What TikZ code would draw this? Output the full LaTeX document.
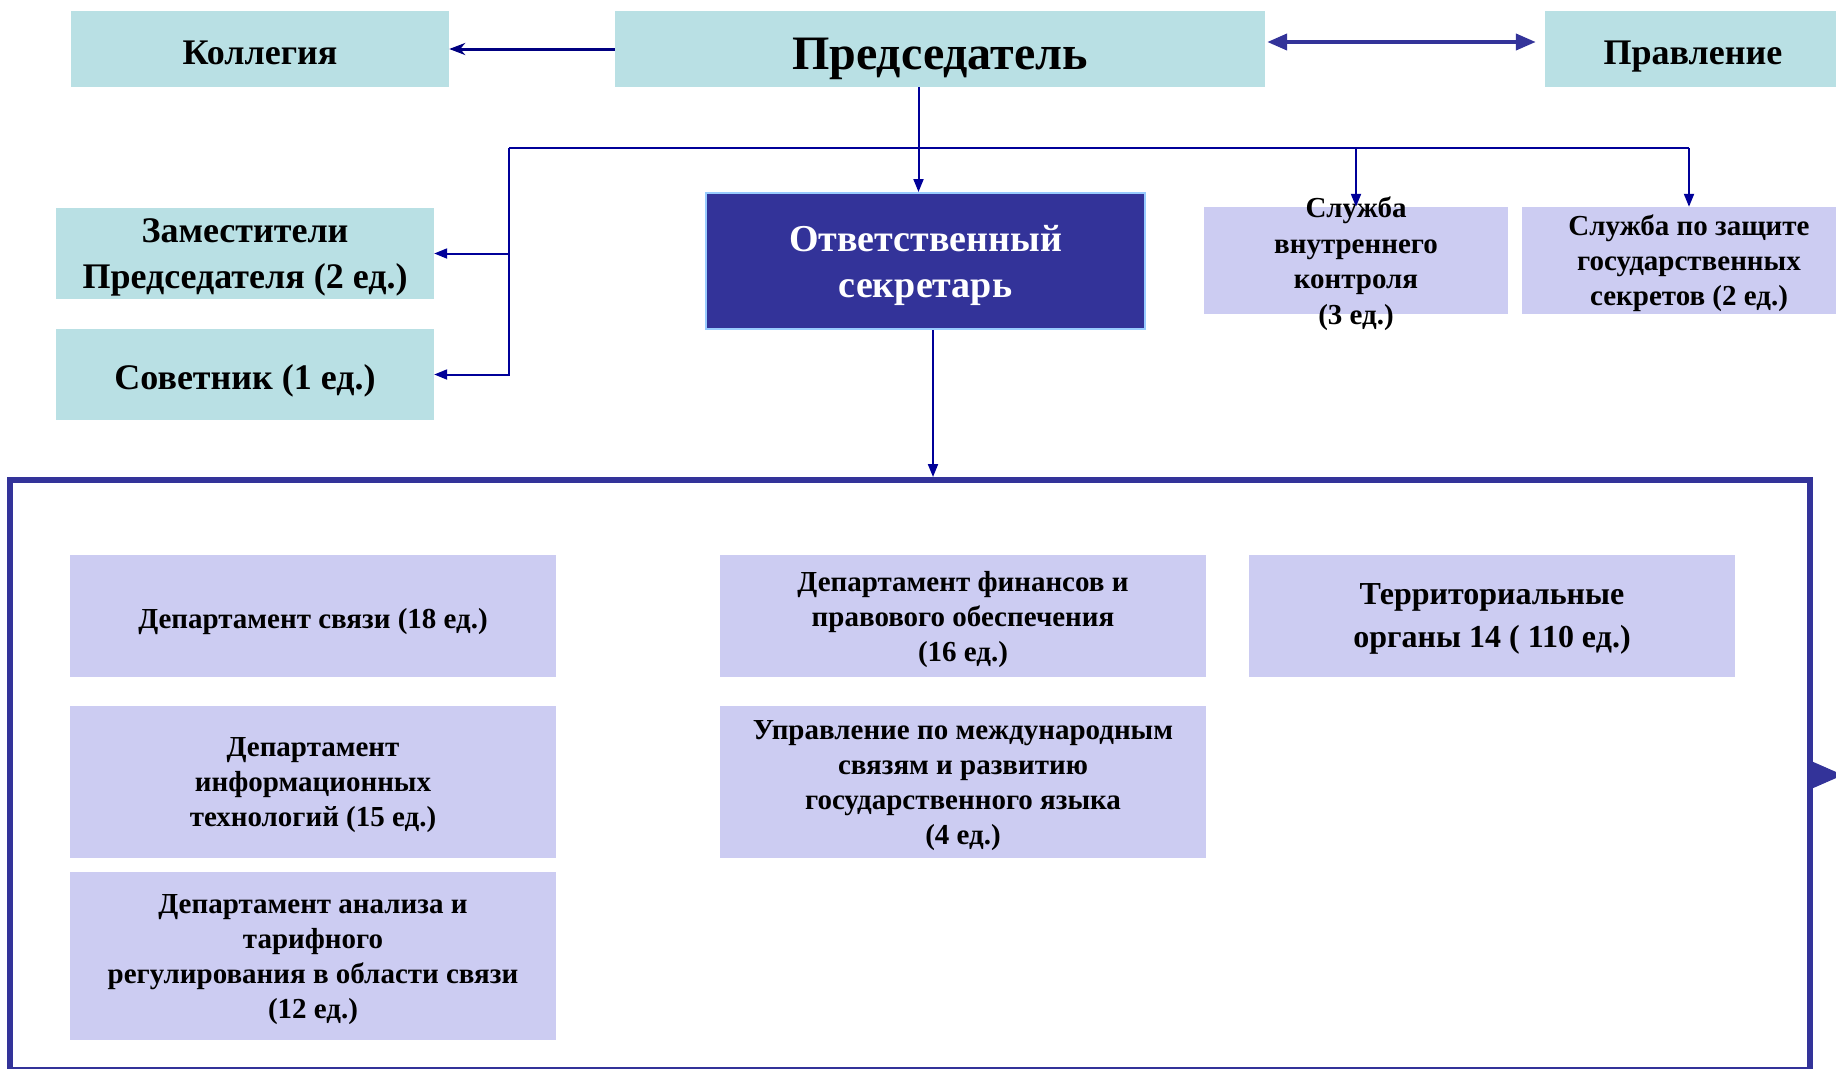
\documentclass[tikz,border=0pt]{standalone}
\usepackage{fontspec}
\setmainfont{Liberation Serif}
\usetikzlibrary{arrows.meta,calc}

\definecolor{tealbox}{RGB}{185,224,228}
\definecolor{lavbox}{RGB}{204,204,242}
\definecolor{navyfill}{RGB}{51,51,153}
\definecolor{lightedge}{RGB}{153,204,255}
\definecolor{linkblue}{RGB}{0,0,153}
\definecolor{darknavy}{RGB}{0,0,128}

\newcommand{\boxstrut}{\rule[-0.25em]{0pt}{1.35em}}

\tikzset{
  struts/.style={execute at begin node=\boxstrut, execute at end node=\boxstrut},
  multi/.style={text depth=#1},
  multi/.default=-10pt,
  headbox/.style={fill=tealbox, inner sep=0pt, align=center, struts, font=\fontsize{36}{46}\selectfont\bfseries},
  deptbox/.style={fill=lavbox, inner sep=0pt, align=center, struts, font=\fontsize{29}{35}\selectfont\bfseries},
  secbox/.style={fill=navyfill, draw=lightedge, line width=2pt, inner sep=0pt, align=center, struts, text=white, font=\fontsize{38}{46}\selectfont\bfseries},
  link/.style={draw=linkblue, line width=2pt, -{Triangle[length=13pt,width=10pt]}},
  linkline/.style={draw=linkblue, line width=2pt},
}

\begin{document}
\begin{tikzpicture}[x=1pt,y=-1pt]
\useasboundingbox (0,0) rectangle (1836,1068);

% upper level
\node[headbox, minimum width=378, minimum height=76] (kollegia) at (260,49) {Коллегия};
\node[headbox, minimum width=650, minimum height=76, font=\fontsize{48}{58}\selectfont\bfseries] (pred) at (940,49) {Председатель};
\node[headbox, minimum width=296, minimum height=76] (pravl) at (1693,49) {Правление};

\node[headbox, multi=-12pt, minimum width=378, minimum height=91] (zam) at (245,253.5) {Заместители\\Председателя (2 ед.)};
\node[headbox, minimum width=378, minimum height=91] (sovet) at (245,374.5) {Советник (1 ед.)};
\node[secbox, multi=-8pt, minimum width=439, minimum height=136] (secr) at (925.5,261) {Ответственный\\секретарь};
\node[deptbox, minimum width=304, minimum height=107,
  label={[align=center, struts, multi=-12pt, font=\fontsize{29}{35.5}\selectfont\bfseries]center:Служба\\внутреннего\\контроля\\(3 ед.)}] (kontrol) at (1356,260.5) {};
\node[deptbox, multi=-5pt, minimum width=334, minimum height=107] (secrets) at (1689,260.5) {Служба по защите\\государственных\\секретов (2 ед.)};

% frame with departments
\node[draw=navyfill, line width=6pt, minimum width=1800, minimum height=590, inner sep=0pt] (frame) at (910,775) {};

\node[deptbox, minimum width=486, minimum height=122] (svyaz) at (313,616) {Департамент связи (18 ед.)};
\node[deptbox, multi, minimum width=486, minimum height=152] (it) at (313,782) {Департамент\\информационных\\технологий (15 ед.)};
\node[deptbox, multi, minimum width=486, minimum height=168] (tarif) at (313,956) {Департамент анализа и\\тарифного\\регулирования в области связи\\(12 ед.)};
\node[deptbox, multi=-1pt, minimum width=486, minimum height=122] (fin) at (963,616) {Департамент финансов и\\правового обеспечения\\(16 ед.)};
\node[deptbox, multi, minimum width=486, minimum height=152] (mezhd) at (963,782) {Управление по международным\\связям и развитию\\государственного языка\\(4 ед.)};
\node[deptbox, multi, minimum width=486, minimum height=122, font=\fontsize{32}{43}\selectfont\bfseries] (terr) at (1492,616) {Территориальные\\органы 14 ( 110 ед.)};

% connectors
\draw[darknavy, line width=3pt, -{Stealth[length=16pt,width=12pt,inset=5pt]}] (pred.west) -- (kollegia.east);
\draw[navyfill, line width=4pt, {Triangle[length=20pt,width=16pt]}-{Triangle[length=20pt,width=16pt]}, shorten <=2pt, shorten >=9pt]
  ([yshift=7pt]pred.east) -- ([yshift=7pt]pravl.west);

\draw[link] ([xshift=-7pt]secr.north |- pred.south) -- ([xshift=-7pt]secr.north);
\coordinate (busL) at (509,148);
\draw[linkline] (busL) -- (secrets.north |- busL);
\draw[link] (kontrol.north |- busL) -- (kontrol.north);
\draw[link] (secrets.north |- busL) -- (secrets.north);
\draw[link] (busL) |- (zam.east);
\draw[link] (busL) |- (sovet.east);

\draw[link] ([xshift=7.5pt]secr.south) -- ([xshift=7.5pt]secr.south |- frame.north);
\draw[navyfill, line width=1pt, -{Triangle[length=30pt,width=26pt]}] (frame.east) -- ++(30,0);
\end{tikzpicture}
\end{document}
